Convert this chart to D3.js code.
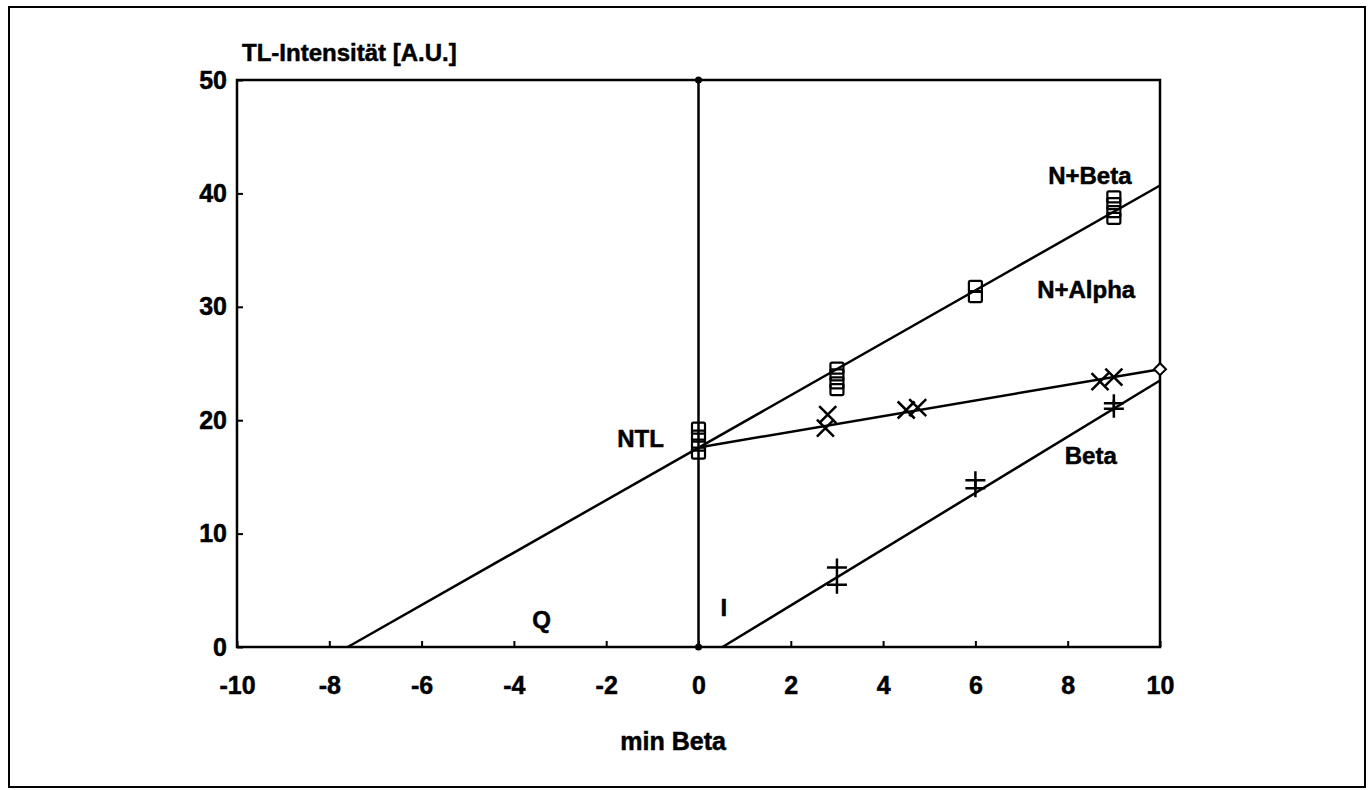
<!DOCTYPE html>
<html>
<head>
<meta charset="utf-8">
<script src="https://cdn.jsdelivr.net/npm/d3@7"></script>
<style>
body{margin:0;background:#fff;}
text{font-family:"Liberation Sans",Arial,sans-serif;font-weight:bold;fill:#000;stroke:#000;stroke-width:0.5px;}
</style>
</head>
<body>
<div id="chart"></div>
<script>
(function(){

const width = 1370;
const height = 790;
const margin = {top:80,right:210,bottom:143,left:237};

// x ticks and y ticks
const xTicks = [-10,-8,-6,-4,-2,0,2,4,6,8,10];
const yTicks = [0,10,20,30,40,50];

// N+Beta (squares)
const nBetaPts = [
  [0,17.1],[0,17.8],[0,18.6],[0,19.3],
  [3,22.7],[3,23.3],[3,24.0],[3,24.6],
  [6,30.9],[6,31.8],
  [9,37.8],[9,38.4],[9,39.1],[9,39.7]
];
const nBetaLine = [[-7.6,0],[10,40.7]];

// N+Alpha (x crosses)
const nAlphaPts = [
  [2.75,19.3],[2.8,20.5],[4.5,20.9],[4.75,21.1],[8.7,23.4],[9.0,23.8]
];
const nAlphaLine = [[0,17.6],[10,24.5]];
const nAlphaEnd = [[10,24.5]];

// Beta (plus signs)
const betaPts = [
  [3,5.5],[3,7.0],[6,14.0],[6,14.7],[9,21.0],[9,21.5]
];
const betaLine = [[0.52,0],[10,23.5]];

// vertical NTL line at x=0
const ntlLine = [[0,0],[0,50]];

// annotations
const labels = [
  {t:"N+Beta", x:8.48, y:41.6, a:"middle"},
  {t:"N+Alpha", x:8.4, y:31.5, a:"middle"},
  {t:"Beta", x:8.5, y:16.9, a:"middle"},
  {t:"NTL", x:-0.75, y:18.4, a:"end"},
  {t:"Q", x:-3.4, y:2.4, a:"middle"},
  {t:"I", x:0.55, y:3.5, a:"middle"}
];

const svg = d3.select("#chart")
.append("svg")
.attr("width",width)
.attr("height",height);

// outer frame
svg.append("rect")
.attr("x",9).attr("y",7)
.attr("width",1356).attr("height",780)
.attr("fill","none")
.attr("stroke","#000")
.attr("stroke-width",2);

const x = d3.scaleLinear()
.domain([-10,10])
.range([margin.left,width-margin.right]);

const y = d3.scaleLinear()
.domain([0,50])
.range([height-margin.bottom,margin.top]);

// plot box
svg.append("rect")
.attr("x",x(-10)).attr("y",y(50))
.attr("width",x(10)-x(-10)).attr("height",y(0)-y(50))
.attr("fill","none")
.attr("stroke","#000")
.attr("stroke-width",2.5);

const xAxis = svg.append("g")
.attr("transform",`translate(0,${y(0)})`)
.call(d3.axisBottom(x).tickValues(xTicks).tickSize(-6).tickPadding(29).tickFormat(d=>String(d)));

const yAxis = svg.append("g")
.attr("transform",`translate(${x(-10)},0)`)
.call(d3.axisLeft(y).tickValues(yTicks).tickSize(-6).tickPadding(10));

[xAxis,yAxis].forEach(g=>{
  g.select(".domain").remove();
  g.selectAll(".tick line").attr("stroke","#000").attr("stroke-width",2);
  g.selectAll(".tick text")
  .attr("fill","#000")
  .style("font-size","25px")
  .style("font-family","Liberation Sans, Arial, sans-serif")
  .style("font-weight","bold");
});

// axis titles
svg.append("text")
.attr("x",x(-10)+5).attr("y",61)
.style("font-size","24px")
.text("TL-Intensität [A.U.]");

svg.append("text")
.attr("x",x(-0.55)).attr("y",750)
.attr("text-anchor","middle")
.style("font-size","25px")
.text("min Beta");

const line = d3.line().x(d=>x(d[0])).y(d=>y(d[1]));

[nBetaLine,nAlphaLine,betaLine,ntlLine].forEach(l=>{
  svg.append("path")
  .attr("d",line(l))
  .attr("fill","none")
  .attr("stroke","#000")
  .attr("stroke-width",2.5);
});

// dots at the ends of the NTL line
svg.selectAll("circle.end")
.data(ntlLine)
.enter()
.append("circle")
.attr("cx",d=>x(d[0]))
.attr("cy",d=>y(d[1]))
.attr("r",3.5)
.attr("fill","#000");

// squares
svg.selectAll("rect.sq")
.data(nBetaPts)
.enter()
.append("rect")
.attr("x",d=>x(d[0])-6.5)
.attr("y",d=>y(d[1])-5.5)
.attr("width",13)
.attr("height",11)
.attr("rx",1.5)
.attr("fill","none")
.attr("stroke","#000")
.attr("stroke-width",2.2);

// x crosses
svg.selectAll("path.xm")
.data(nAlphaPts)
.enter()
.append("path")
.attr("d",d=>{
  const cx=x(d[0]), cy=y(d[1]), s=8.5;
  return `M${cx-s},${cy-s}L${cx+s},${cy+s}M${cx-s},${cy+s}L${cx+s},${cy-s}`;
})
.attr("stroke","#000")
.attr("stroke-width",2.5);

// plus signs
svg.selectAll("path.pm")
.data(betaPts)
.enter()
.append("path")
.attr("d",d=>{
  const cx=x(d[0]), cy=y(d[1]);
  return `M${cx-10},${cy}L${cx+10},${cy}M${cx},${cy-9}L${cx},${cy+9}`;
})
.attr("stroke","#000")
.attr("stroke-width",2.5);

// diamond
svg.selectAll("path.dm")
.data(nAlphaEnd)
.enter()
.append("path")
.attr("d",d=>{
  const cx=x(d[0]), cy=y(d[1]), s=6;
  return `M${cx},${cy-s}L${cx+s},${cy}L${cx},${cy+s}L${cx-s},${cy}Z`;
})
.attr("fill","#fff")
.attr("stroke","#000")
.attr("stroke-width",2);

svg.selectAll("text.lab")
.data(labels)
.enter()
.append("text")
.attr("x",d=>x(d.x))
.attr("y",d=>y(d.y))
.attr("dy","0.35em")
.attr("text-anchor",d=>d.a)
.style("font-size","24px")
.text(d=>d.t);

})();
</script>
</body>
</html>
